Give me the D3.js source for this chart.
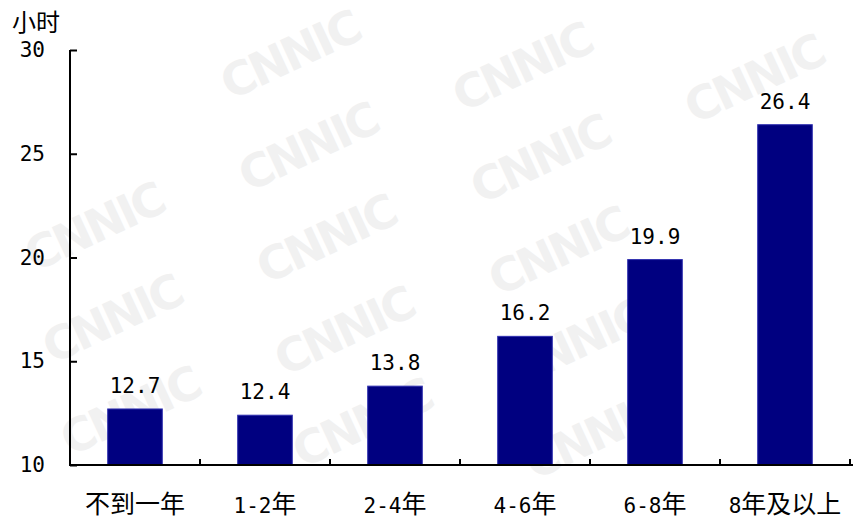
<!DOCTYPE html>
<html>
<head>
<meta charset="utf-8">
<script src="https://cdn.jsdelivr.net/npm/d3@7/dist/d3.min.js"></script>
<style>
  html, body { margin: 0; padding: 0; background: #fff; }
  svg { display: block; }
</style>
</head>
<body>
<svg id="chart" width="853" height="521"></svg>
<script>
// 上网时长（小时）按网龄分组
const categories = ["不到一年", "1-2年", "2-4年", "4-6年", "6-8年", "8年及以上"];
const hours = [12.7, 12.4, 13.8, 16.2, 19.9, 26.4];
const yTicks = [10, 15, 20, 25, 30];
const yUnit = "小时";
const watermark = "CNNIC";

const W = 853, H = 521;
const svg = d3.select("#chart");

const MONO = "'DejaVu Sans Mono', 'Liberation Mono', monospace";
const CJK = "'Noto Sans CJK SC', 'Noto Sans', sans-serif";

// background watermark, tiled diagonally (only whole copies kept)
const wm = svg.append("g").attr("class", "watermark");
const ax = [232, 12], bx = [18, 92], origin = [290, 55];
for (let r = -3; r <= 7; r++) {
  for (let c = -3; c <= 4; c++) {
    const cx = origin[0] + c * ax[0] + r * bx[0];
    const cy = origin[1] + c * ax[1] + r * bx[1];
    if (cx < 92 || cx > W - 92 || cy < 48 || cy > H - 48) continue;
    wm.append("text")
      .attr("transform", `translate(${cx},${cy}) rotate(-25)`)
      .attr("text-anchor", "middle")
      .attr("dominant-baseline", "central")
      .attr("font-family", "'DejaVu Sans', sans-serif")
      .attr("font-weight", "bold")
      .attr("font-size", 46)
      .attr("letter-spacing", -3)
      .attr("fill", "#f1f1f1")
      .text(watermark);
  }
}

const x0 = 70, x1 = 850, yTop = 50, yBase = 465;

const x = d3.scaleBand()
  .domain(categories)
  .range([x0, x1])
  .paddingInner(0.58)
  .paddingOuter(0.29);

const y = d3.scaleLinear()
  .domain([10, 30])
  .range([yBase, yTop]);

// mixed-script text: ASCII in monospace, CJK in a wider face
function mixedText(sel, str, asciiSize, cjkSize) {
  const runs = str.match(/[\x00-\x7F]+|[^\x00-\x7F]+/g) || [];
  runs.forEach(run => {
    const ascii = /^[\x00-\x7F]+$/.test(run);
    sel.append("tspan")
      .attr("font-family", ascii ? MONO : CJK)
      .attr("font-size", ascii ? asciiSize : cjkSize)
      .text(run);
  });
}

// bars
svg.append("g").selectAll("rect")
  .data(hours)
  .join("rect")
  .attr("x", (d, i) => x(categories[i]))
  .attr("y", d => y(d))
  .attr("width", x.bandwidth())
  .attr("height", d => yBase - y(d))
  .attr("fill", "#000080")
  .attr("stroke", "#3030b0")
  .attr("stroke-width", 1);

// value labels
svg.append("g").selectAll("text")
  .data(hours)
  .join("text")
  .attr("x", (d, i) => x(categories[i]) + x.bandwidth() / 2)
  .attr("y", d => y(d) - 16)
  .attr("text-anchor", "middle")
  .attr("font-family", MONO)
  .attr("font-size", 21)
  .attr("fill", "#000")
  .text(d => d.toFixed(1));

// y axis (ticks pointing inward)
const yAxis = d3.axisLeft(y)
  .tickValues(yTicks)
  .tickSize(-7)
  .tickPadding(32)
  .tickFormat(d3.format("d"));
const gy = svg.append("g")
  .attr("transform", `translate(${x0},0)`)
  .call(yAxis);
gy.select(".domain").attr("stroke", "#000").attr("stroke-width", 2)
  .attr("d", `M0,${yTop}V${yBase}`);
gy.selectAll(".tick line").attr("stroke", "#000").attr("stroke-width", 2);
gy.selectAll(".tick text")
  .attr("font-family", MONO)
  .attr("font-size", 21)
  .attr("fill", "#000")
  .attr("x", -25)
  .attr("text-anchor", "end");

// x axis baseline and separator ticks
const step = x.step();
const gx = svg.append("g");
gx.append("line")
  .attr("x1", x0 - 1).attr("x2", W)
  .attr("y1", yBase).attr("y2", yBase)
  .attr("stroke", "#000").attr("stroke-width", 2);
gx.selectAll("line.sep")
  .data(d3.range(1, categories.length + 1))
  .join("line")
  .attr("class", "sep")
  .attr("x1", i => x0 + i * step).attr("x2", i => x0 + i * step)
  .attr("y1", yBase).attr("y2", yBase - 6)
  .attr("stroke", "#000").attr("stroke-width", 2);

// category labels
gx.selectAll("text.cat")
  .data(categories)
  .join("text")
  .attr("class", "cat")
  .attr("x", d => x(d) + x.bandwidth() / 2)
  .attr("y", 513)
  .attr("text-anchor", "middle")
  .attr("fill", "#000")
  .each(function(d) { mixedText(d3.select(this), d, 21, 25); });

// unit label
svg.append("text")
  .attr("x", 12)
  .attr("y", 31)
  .attr("font-family", CJK)
  .attr("font-size", 24)
  .attr("fill", "#000")
  .text(yUnit);
</script>
</body>
</html>
